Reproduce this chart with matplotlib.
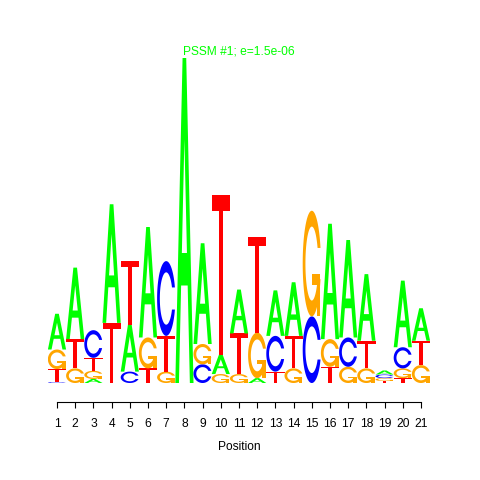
import matplotlib
matplotlib.use("Agg")
import numpy as np
import matplotlib.pyplot as plt
from matplotlib.patches import Polygon

positions = list(range(1, 22))
letters = ["A", "C", "G", "T"]
colors = {"A": "#00FF00", "C": "#0000FF", "G": "#FFA500", "T": "#FF0000"}

# information content (bits) per letter at each position
A_bits = [0.22, 0.44, 0.025, 0.73, 0.29, 0.68, 0.0, 2.0, 0.62, 0.12, 0.27,
          0.03, 0.28, 0.33, 0.0, 0.71, 0.60, 0.41, 0.025, 0.41, 0.20]
C_bits = [0.006, 0.0, 0.17, 0.0, 0.07, 0.0, 0.46, 0.0, 0.115, 0.0, 0.0,
          0.0, 0.22, 0.0, 0.41, 0.0, 0.18, 0.0, 0.022, 0.13, 0.0]
G_bits = [0.12, 0.09, 0.05, 0.0, 0.0, 0.19, 0.07, 0.0, 0.125, 0.055, 0.055,
          0.28, 0.0, 0.09, 0.65, 0.17, 0.10, 0.09, 0.018, 0.06, 0.11]
T_bits = [0.08, 0.18, 0.08, 0.37, 0.39, 0.09, 0.22, 0.0, 0.0, 0.98, 0.25,
          0.59, 0.07, 0.20, 0.0, 0.10, 0.0, 0.17, 0.012, 0.03, 0.15]

title = "PSSM #1; e=1.5e-06"

fig = plt.figure(figsize=(4.8, 4.8), dpi=100)
W = 480.0
left_px, right_px = 47.9, 430.1
base_px, top_px = 383.0, 58.0
ax = fig.add_axes([left_px / W, (W - base_px) / W,
                   (right_px - left_px) / W, (base_px - top_px) / W])
ax.set_xlim(0.5, 21.5)
ax.set_ylim(0, 2.0)


def c_shape():
    a1 = np.linspace(0.3 + np.pi / 2, np.pi, 100)
    a2 = np.linspace(np.pi, 1.5 * np.pi, 100)
    xl1 = 0.5 + 0.5 * np.sin(a1)
    yl1 = 0.5 + 0.5 * np.cos(a1)
    xl2 = 0.5 + 0.5 * np.sin(a2)
    yl2 = 0.5 + 0.5 * np.cos(a2)
    xl = np.concatenate([xl1, xl2])
    yl = np.concatenate([yl1, yl2])
    x = np.concatenate([xl, xl[::-1]])
    y = np.concatenate([yl, 1 - yl[::-1]])
    xi1 = 0.5 + 0.35 * np.sin(a1)
    yi1 = 0.5 + 0.35 * np.cos(a1)
    keep = yi1 <= yl1.max()
    xi1 = xi1[keep]
    yi1 = yi1[keep].copy()
    yi1[0] = yl1.max()
    xi2 = 0.5 + 0.35 * np.sin(a2)
    yi2 = 0.5 + 0.35 * np.cos(a2)
    xi = np.concatenate([xi1, xi2])
    yi = np.concatenate([yi1, yi2])
    x1 = np.concatenate([xi, xi[::-1]])
    y1 = np.concatenate([yi, 1 - yi[::-1]])
    x = np.concatenate([x, x1[::-1]])
    y = np.concatenate([y, y1[::-1]])
    return x, y, xl1.max()


def shapes(ch):
    if ch == "A":
        xo = np.array([0, 4, 6, 10, 8, 6.8, 3.2, 2, 0]) * 0.1
        yo = np.array([0, 10, 10, 0, 0, 3, 3, 0, 0]) * 0.1
        xi = np.array([3.6, 5, 6.4, 3.6]) * 0.1
        yi = np.array([4, 7.5, 4, 4]) * 0.1
        return [(xo, yo, colors["A"]), (xi, yi, "white")]
    if ch == "T":
        x = np.array([0, 10, 10, 6, 6, 4, 4, 0]) * 0.1
        y = np.array([10, 10, 9, 9, 0, 0, 9, 9]) * 0.1
        return [(x, y, colors["T"])]
    if ch == "C":
        x, y, _ = c_shape()
        return [(x, y, colors["C"])]
    if ch == "G":
        x, y, r1 = c_shape()
        h1 = 0.4
        xa = np.array([r1, 0.5, 0.5, r1 - 0.2, r1 - 0.2, r1, r1])
        ya = np.array([h1, h1, h1 - 0.1, h1 - 0.1, 0, 0, h1])
        return [(x, y, colors["G"]), (xa, ya, colors["G"])]


def draw_letter(ch, xleft, y0, w, h):
    for xs, ys, col in shapes(ch):
        pts = np.column_stack([xleft + w * xs, y0 + h * ys])
        ax.add_patch(Polygon(pts, closed=True, facecolor=col,
                             edgecolor="none", lw=0))


data = {"A": A_bits, "C": C_bits, "G": G_bits, "T": T_bits}
for i, pos in enumerate(positions):
    col = sorted([(data[l][i], l) for l in letters], key=lambda v: v[0])
    y = 0.0
    for h, l in col:
        if h <= 0:
            continue
        draw_letter(l, pos - 0.5, y, 1.0, h)
        y += h

for s in ["left", "right", "top"]:
    ax.spines[s].set_visible(False)
ax.spines["bottom"].set_position(("outward", 19 * 0.72))
ax.spines["bottom"].set_bounds(1, 21)
ax.spines["bottom"].set_linewidth(0.8)
ax.set_yticks([])
ax.set_xticks(positions)
ax.set_xticklabels([str(p) for p in positions], fontsize=8.64,
                   family="Liberation Sans")
ax.tick_params(axis="x", length=4.3, width=0.8, pad=7.5)
ax.set_xlabel("Position", fontsize=8.64, family="Liberation Sans", labelpad=8)

fig.text(239 / W, 1 - 52 / W, title, color="#00FF00", fontsize=8.64,
         family="Liberation Sans", ha="center", va="center")

fig.savefig("out.png", dpi=100)
